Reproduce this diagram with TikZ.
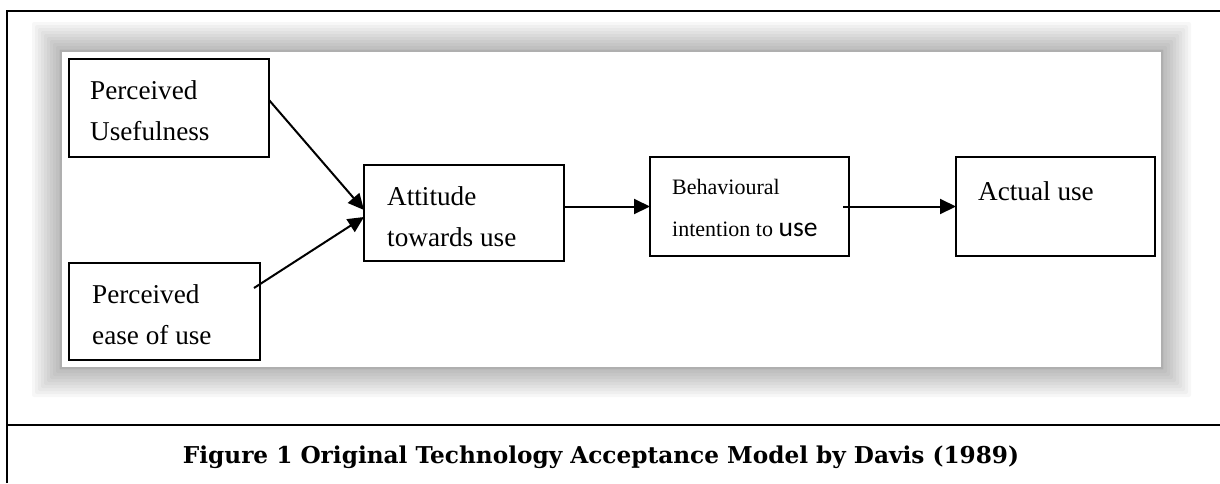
\documentclass[tikz,border=0pt]{standalone}
\usepackage{fontspec}
\setmainfont{Liberation Serif}
\newfontfamily\capfont{DejaVu Serif}
\newfontfamily\calfont{Carlito}
\usetikzlibrary{arrows.meta,calc}
\begin{document}
\begin{tikzpicture}[x=1pt,y=-1pt,
  box/.style={draw=black,line width=1.9pt,fill=white,inner sep=0pt,outer sep=0pt},
  lbl/.style={anchor=north west,inner sep=0pt,align=left,font=\fontsize{27.2}{41}\selectfont},
  arr/.style={line width=2pt,-{Triangle[length=16pt,width=15pt]}},
  frame/.style={line width=2pt,black}]
\useasboundingbox (0,0) rectangle (1220,483);
% outer frame
\draw[frame] (7,483) -- (7,11) -- (1220,11);
\draw[frame] (7,424.5) -- (1220,424.5);
% picture shadow
\foreach \i in {1,...,10}{
  \fill[black,opacity=0.03,rounded corners=2pt] ({62-3*\i},{52-3*\i}) rectangle ({1161+3*\i},{367+3*\i});
}
\fill[black,opacity=0.06] (60,50) rectangle (1163,369);
\fill[white] (62,52) rectangle (1161,367);
% boxes
\node[box,minimum width=200pt,minimum height=98pt] (pu) at (169,108) {};
\node[box,minimum width=191pt,minimum height=97pt] (peou) at (164.5,311.5) {};
\node[box,minimum width=200pt,minimum height=96pt] (att) at (464,213) {};
\node[box,minimum width=199pt,minimum height=99pt] (beh) at (749.5,206.5) {};
\node[box,minimum width=199pt,minimum height=99pt] (act) at (1055.5,206.5) {};
% texts
\node[lbl] (tpu) at (90,80.4) {Perceived\\Usefulness};
\node[lbl] (tpeou) at (92,284.4) {Perceived\\ease of use};
\node[lbl] (tatt) at (387,186.4) {Attitude\\towards use};
\node[lbl,font=\fontsize{22}{42}\selectfont] (tbeh) at (672,179) {Behavioural\\intention to {\calfont\fontsize{27.6}{42}\selectfont use}};
\node[lbl] (tact) at (978,181.4) {Actual use};
% arrows
\coordinate (s2) at ([xshift=-6pt,yshift=23.5pt]peou.east);
\draw[arr] ([yshift=8pt]pu.east) -- ([yshift=3pt]att.west);
\draw[arr] (s2) -- ([yshift=-4pt]att.west);
\draw[arr] (att.east |- beh.west) -- (beh.west);
\draw[arr] ([xshift=-6pt]beh.east) -- (act.west);
% caption
\node[anchor=base,inner sep=0pt,font=\capfont\bfseries\fontsize{23.2}{27}\selectfont] (cap) at (601,463) {Figure 1 Original Technology Acceptance Model by Davis (1989)};
\end{tikzpicture}
\end{document}
